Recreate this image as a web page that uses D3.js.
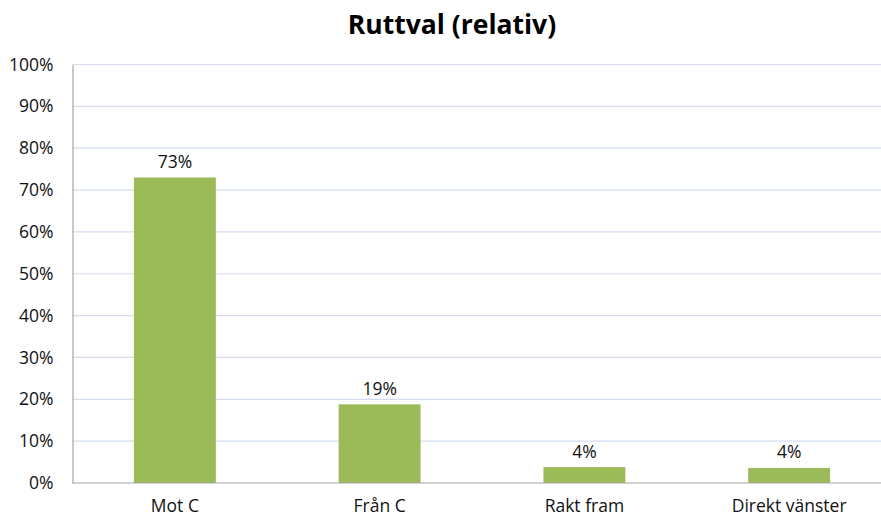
<!DOCTYPE html>
<html>
<head>
<meta charset="utf-8">
<script src="https://cdn.jsdelivr.net/npm/d3@7"></script>
<style>
  html, body { margin: 0; padding: 0; background: #fff; }
  svg { display: block; }
</style>
</head>
<body>
<svg id="chart" width="881" height="517"></svg>
<script>
const title = "Ruttval (relativ)";
const categories = ["Mot C", "Från C", "Rakt fram", "Direkt vänster"];
const values = [0.730, 0.188, 0.038, 0.036];
const labels = ["73%", "19%", "4%", "4%"];
const yTicks = [0, 0.1, 0.2, 0.3, 0.4, 0.5, 0.6, 0.7, 0.8, 0.9, 1.0];

const svg = d3.select("#chart");
const font = "'Open Sans', sans-serif";

const mLeft = 72.5, mRight = 891.5, mTop = 64.5, mBottom = 483;

const x = d3.scaleBand().domain(categories).range([mLeft, mRight]).paddingInner(0.6).paddingOuter(0.3);
const y = d3.scaleLinear().domain([0, 1]).range([mBottom, mTop]);

// gridlines
svg.append("g").selectAll("line").data(yTicks.filter(d => d > 0)).join("line")
  .attr("x1", mLeft).attr("x2", mRight)
  .attr("y1", d => y(d)).attr("y2", d => y(d))
  .attr("stroke", "#d3dcf0").attr("stroke-width", 1.2);

// bars
svg.append("g").selectAll("rect").data(values).join("rect")
  .attr("x", (d, i) => x(categories[i]))
  .attr("width", x.bandwidth())
  .attr("y", d => y(d))
  .attr("height", d => y(0) - y(d))
  .attr("fill", "#9bbb59");

// y axis
const yAxis = d3.axisLeft(y).tickValues(yTicks).tickFormat(d3.format(".0%")).tickSize(0).tickPadding(19);
const gy = svg.append("g").attr("transform", `translate(${mLeft},0)`).call(yAxis);
gy.select(".domain").attr("stroke", "#a6a6a6").attr("stroke-width", 1.2);
gy.selectAll("text").attr("font-family", font).attr("font-size", "17.5px").attr("fill", "#111");

// x axis
const xAxis = d3.axisBottom(x).tickSize(0).tickPadding(16.5);
const gx = svg.append("g").attr("transform", `translate(0,${mBottom})`).call(xAxis);
gx.select(".domain").attr("stroke", "#a6a6a6").attr("stroke-width", 1.2).attr("d", `M${mLeft},0H${mRight}`);
gx.selectAll("text").attr("font-family", font).attr("font-size", "17.5px").attr("fill", "#111");

// data labels
svg.append("g").selectAll("text").data(values).join("text")
  .attr("x", (d, i) => x(categories[i]) + x.bandwidth() / 2)
  .attr("y", d => y(d) - 9.5)
  .attr("text-anchor", "middle")
  .attr("font-family", font).attr("font-size", "17.5px").attr("fill", "#111")
  .text((d, i) => labels[i]);

// title
svg.append("text")
  .attr("x", 452).attr("y", 33.5)
  .attr("text-anchor", "middle")
  .attr("font-family", font).attr("font-size", "26.5px").attr("font-weight", "bold").attr("fill", "#000")
  .text(title);
</script>
</body>
</html>
